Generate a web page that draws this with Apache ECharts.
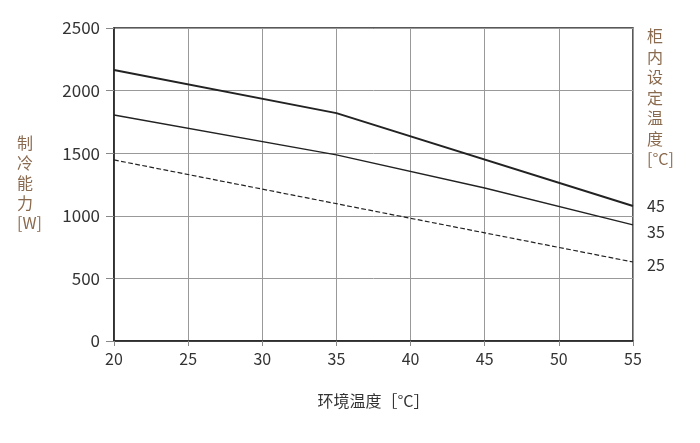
<!DOCTYPE html>
<html><head><meta charset="utf-8">
<script src="https://cdn.jsdelivr.net/npm/echarts@6/dist/echarts.min.js"></script>
<style>body{margin:0;background:#fff}#c{width:700px;height:443px}</style>
</head><body><div id="c"></div>
<script>
const temps = [20, 25, 30, 35, 40, 45, 50, 55];
const line45 = [[20, 2165], [35, 1820], [55, 1078]];
const line35 = [[20, 1805], [35, 1486], [45, 1222], [55, 927]];
const line25 = [[20, 1446], [55, 631]];
const endLabels = ["45", "35", "25"];

const font = "'Noto Sans CJK SC', 'Noto Sans', sans-serif";
const brown = "#8a6a4e";
const chart = echarts.init(document.getElementById("c"));

const mk = (data, w, type, label, dy) => ({
  type: "line", data: data, symbol: "none", animation: false,
  lineStyle: { color: "#222", width: w, type: type },
  labelLayout: { hideOverlap: false, moveOverlap: null },
  endLabel: { show: true, formatter: label, color: "#333", fontSize: 16, fontFamily: font, offset: [6, dy] }
});

chart.setOption({
  grid: { left: 114, right: 67, top: 28, bottom: 102 },
  xAxis: {
    type: "value", min: 20, max: 55, interval: 5,
    name: "环境温度［°C］", nameLocation: "middle", nameGap: 52,
    nameTextStyle: { color: "#333", fontSize: 16, fontFamily: font },
    axisLine: { lineStyle: { color: "#222", width: 1.5 } },
    axisTick: { show: true, lineStyle: { color: "#888" } },
    axisLabel: { color: "#333", fontSize: 16, fontFamily: font, margin: 10 },
    splitLine: { lineStyle: { color: "#999" } }
  },
  yAxis: {
    type: "value", min: 0, max: 2500, interval: 500,
    axisLine: { show: true, lineStyle: { color: "#222", width: 1.5 } },
    axisTick: { show: true, length: 8, lineStyle: { color: "#888" } },
    axisLabel: { color: "#333", fontSize: 17, fontFamily: font, margin: 14, formatter: v => String(v) },
    splitLine: { lineStyle: { color: "#999" } }
  },
  graphic: [
    { type: "rect", shape: { x: 114, y: 28, width: 519, height: 313 }, style: { fill: "none", stroke: "#222", lineWidth: 1.5 }, silent: true },
    { type: "text", left: 17, top: 133, style: { text: "制\n冷\n能\n力\n[W]", fill: brown, font: "16px " + font, align: "center", lineHeight: 20 } },
    { type: "text", left: 647, top: 26, style: { text: "柜\n内\n设\n定\n温\n度\n[°C]", fill: brown, font: "16px " + font, align: "center", lineHeight: 20.5 } }
  ],
  series: [
    mk(line45, 2, "solid", endLabels[0], 0),
    mk(line35, 1.3, "solid", endLabels[1], 7),
    mk(line25, 1.2, "dashed", endLabels[2], 3)
  ]
});
</script></body></html>
